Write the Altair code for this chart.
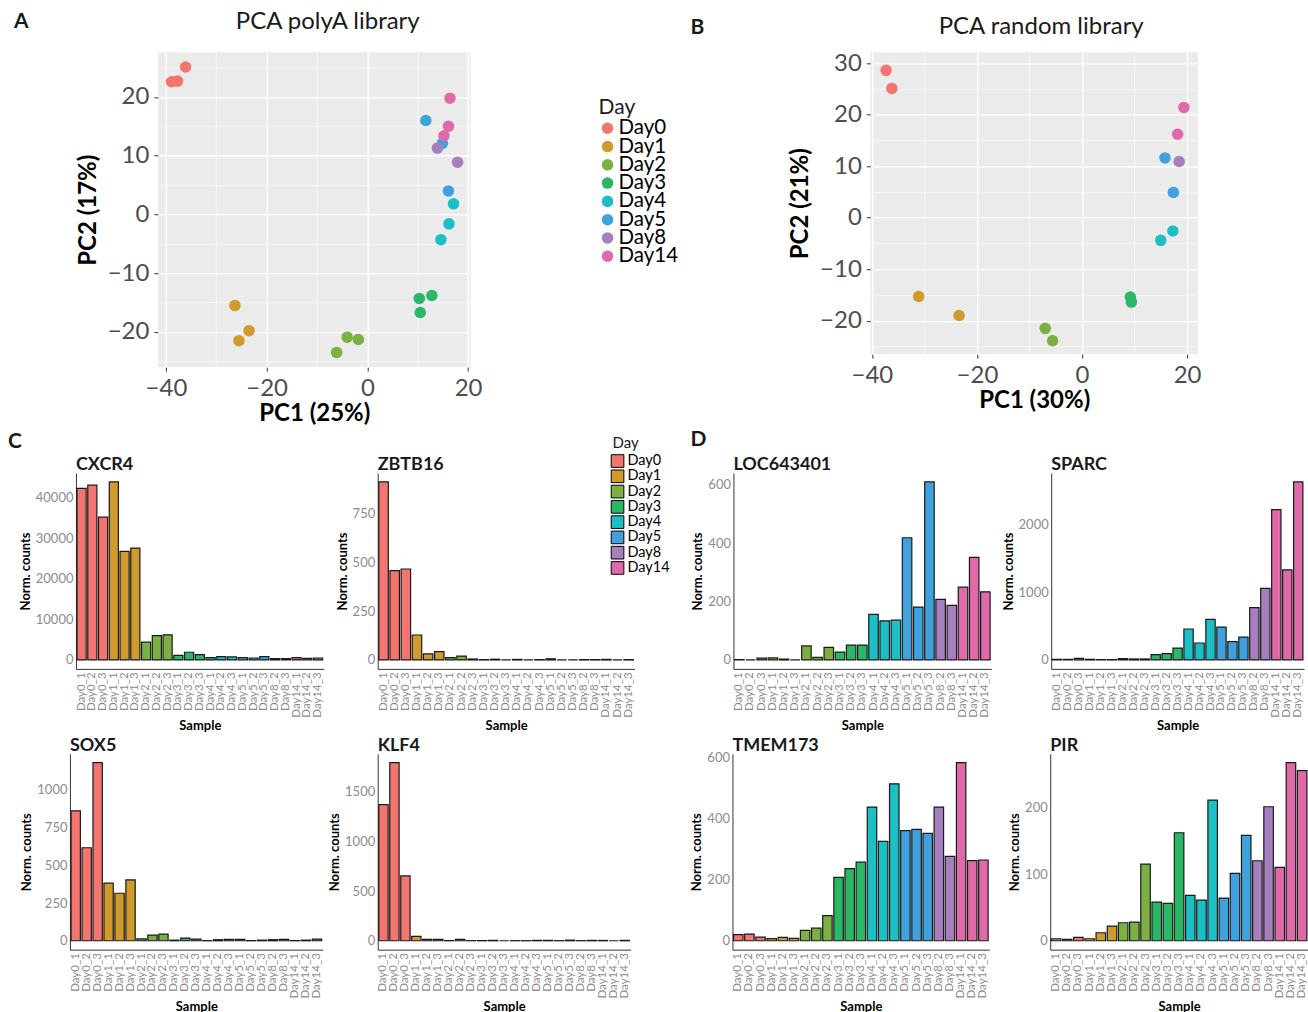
import altair as alt
import pandas as pd

# ---------------- data ----------------
days = ["Day0", "Day1", "Day2", "Day3", "Day4", "Day5", "Day8", "Day14"]
day_colors = ["#F2766F", "#D09A2C", "#7BB142", "#2AB766", "#1CBFC3", "#40A2DD", "#A77FBE", "#E06AA9"]

# PCA polyA library
pa_days = ["Day0"] * 3 + ["Day1"] * 3 + ["Day2"] * 3 + ["Day3"] * 3 + ["Day4"] * 3 + ["Day5"] * 3 + ["Day8"] * 2 + ["Day14"] * 3
pa_pc1 = [-36.1, -37.7, -38.9, -26.3, -23.5, -25.5, -4.0, -1.8, -6.1, 10.3, 12.8, 10.5,
          17.1, 16.2, 14.6, 11.6, 14.9, 16.1, 13.9, 17.9, 16.4, 16.1, 15.2]
pa_pc2 = [25.1, 22.7, 22.6, -15.5, -19.8, -21.5, -20.9, -21.3, -23.5, -14.3, -13.8, -16.7,
          1.8, -1.6, -4.3, 16.0, 12.1, 4.0, 11.3, 8.9, 19.8, 15.0, 13.4]

# PCA random library
rb_days = ["Day0"] * 2 + ["Day1"] * 2 + ["Day2"] * 2 + ["Day3"] * 2 + ["Day4"] * 2 + ["Day5"] * 2 + ["Day8"] + ["Day14"] * 2
rb_pc1 = [-37.3, -36.2, -31.1, -23.4, -7.0, -5.6, 9.2, 9.4, 17.3, 15.0, 15.8, 17.4, 18.5, 19.4, 18.2]
rb_pc2 = [28.6, 25.1, -15.3, -19.0, -21.5, -23.9, -15.4, -16.4, -2.6, -4.4, 11.6, 4.9, 10.9, 21.4, 16.2]

samples = ["Day0_1", "Day0_2", "Day0_3", "Day1_1", "Day1_2", "Day1_3", "Day2_1", "Day2_2", "Day2_3",
           "Day3_1", "Day3_2", "Day3_3", "Day4_1", "Day4_2", "Day4_3", "Day5_1", "Day5_2", "Day5_3",
           "Day8_2", "Day8_3", "Day14_1", "Day14_2", "Day14_3"]
sample_days = [s.split("_")[0] for s in samples]

cxcr4 = [42300, 43100, 35200, 43900, 26800, 27600, 4400, 6000, 6200, 1150, 1900, 1300,
         570, 820, 740, 570, 490, 820, 330, 330, 570, 410, 490]
zbtb16 = [912, 458, 466, 128, 31, 43, 12, 20, 5, 2, 4, 0, 3, 0, 2, 6, 0, 0, 2, 2, 3, 0, 2]
sox5 = [861, 617, 1181, 382, 315, 404, 13, 38, 44, 4, 18, 11, 1, 7, 9, 9, 1, 4, 7, 9, 1, 4, 11]
klf4 = [1373, 1795, 654, 44, 13, 13, 2, 13, 1, 2, 4, 0, 1, 1, 4, 4, 1, 6, 1, 4, 3, 0, 4]
loc643401 = [1, 0, 6, 7, 3, 0, 48, 9, 43, 27, 51, 51, 156, 134, 136, 418, 181, 609, 207, 187, 249, 351, 233]
sparc = [10, 10, 25, 10, 5, 5, 20, 15, 15, 78, 93, 176, 456, 250, 598, 485, 270, 338, 770, 1054, 2216, 1328, 2623]
tmem173 = [20, 22, 12, 7, 11, 8, 34, 41, 82, 207, 236, 257, 437, 325, 513, 360, 364, 351, 437, 276, 582, 262, 264]
pir = [3, 2, 5, 3, 12, 22, 27, 28, 115, 58, 56, 162, 68, 61, 211, 64, 101, 158, 120, 201, 110, 267, 255]

FONT = "Lato"


# ---------------- helpers ----------------
def anchor(x, y):
    return alt.Chart(pd.DataFrame({"a": [0]})).mark_point(
        filled=True, size=1, opacity=0
    ).encode(x=alt.value(x), y=alt.value(y))


def label(txt, x, y, size, weight="bold", align="left"):
    return alt.Chart(pd.DataFrame({"t": [txt]})).mark_text(
        align=align, baseline="alphabetic", fontSize=size, fontWeight=weight,
        font=FONT, color="#1A1A1A"
    ).encode(text="t:N", x=alt.value(x), y=alt.value(y))


def spacer(w, pts):
    layers = [anchor(px, py) for px, py in pts]
    return alt.layer(*layers).properties(width=w, height=1)


color_scale = alt.Scale(domain=days, range=day_colors)


def legend_layers(shape, x_sym, x_lab, y_first, y_last, sym_size, font_size, title_xy, title_size):
    ldf = pd.DataFrame({"day": days})
    yenc = alt.Y("day:N", sort=days, axis=None,
                 scale=alt.Scale(type="point", domain=days, range=[y_first, y_last], padding=0))
    if shape == "circle":
        syms = alt.Chart(ldf).mark_circle(size=sym_size, opacity=1)
    else:
        syms = alt.Chart(ldf).mark_square(size=sym_size, opacity=1, stroke="black", strokeWidth=1)
    syms = syms.encode(x=alt.value(x_sym), y=yenc,
                       color=alt.Color("day:N", scale=color_scale, legend=None))
    labs = alt.Chart(ldf).mark_text(
        align="left", baseline="middle", fontSize=font_size, font=FONT, color="black"
    ).encode(x=alt.value(x_lab), y=yenc, text="day:N")
    return [label("Day", title_xy[0], title_xy[1], title_size, "normal"), syms, labs]


def pca_axis(title, vals, step, tpad):
    major = f"datum.value % {step} === 0"
    return alt.Axis(
        values=vals, title=title, format="d",
        labelExpr=f"{major} ? datum.label : ''",
        gridColor="white",
        gridWidth={"condition": {"test": major, "value": 1.3}, "value": 0.6},
        tickOpacity={"condition": {"test": major, "value": 1}, "value": 0},
        tickColor="#333333", tickSize=4, tickWidth=1, domain=False,
        labelFontSize=24, labelColor="#4D4D4D", labelPadding=5, labelFont=FONT,
        labelFlush=False, labelOverlap=False,
        titleFontSize=24, titleFontWeight="bold", titleColor="black", titleFont=FONT,
        titlePadding=tpad,
    )


def pca_panel(dlist, x1, x2, title, xlab, ylab, xdom, ydom, xvals, yvals, w, h,
              title_x, title_y, letter, letter_x, letter_y, extra):
    df = pd.DataFrame({"day": dlist, "pc1": x1, "pc2": x2})
    pts = alt.Chart(df).mark_circle(size=133, opacity=1).encode(
        x=alt.X("pc1:Q", scale=alt.Scale(domain=xdom, nice=False, zero=False),
                axis=pca_axis(xlab, xvals, 20, 1)),
        y=alt.Y("pc2:Q", scale=alt.Scale(domain=ydom, nice=False, zero=False),
                axis=pca_axis(ylab, yvals, 10, 7)),
        color=alt.Color("day:N", scale=color_scale, legend=None),
    )
    layers = [pts, label(title, title_x, title_y, 24, "normal", "center"),
              label(letter, letter_x, letter_y, 21)] + extra
    return alt.layer(*layers).resolve_scale(y="independent").properties(
        width=w, height=h, view=alt.ViewBackground(fill="#EBEBEB", stroke=None)
    )


def bar_panel(gene, values, ticks, w, h, L, R=None, extra=None, letter=None):
    df = pd.DataFrame({"sample": samples, "day": sample_days, "value": values})
    m = max(values)
    bars = alt.Chart(df).mark_bar(stroke="#1A1A1A", strokeWidth=1.2).encode(
        x=alt.X("sample:N", sort=samples,
                scale=alt.Scale(paddingInner=0.15, paddingOuter=0.1),
                axis=alt.Axis(title="Sample", labelAngle=270, labelFontSize=11.5,
                              labelColor="#8C8C8C", labelFont=FONT, ticks=False,
                              labelPadding=3, domainColor="#333333", domainWidth=1,
                              grid=False, titleFont=FONT, titleFontSize=13,
                              titleFontWeight="bold", titleColor="black", titlePadding=2)),
        y=alt.Y("value:Q", stack=None,
                scale=alt.Scale(domain=[-0.05 * m, 1.05 * m], nice=False, zero=False),
                axis=alt.Axis(values=ticks, format="d", title="Norm. counts",
                              labelFontSize=13, labelColor="#8C8C8C", labelFont=FONT,
                              ticks=False, labelPadding=3, domainColor="#333333",
                              domainWidth=1, grid=False, titleFont=FONT, titleFontSize=13,
                              titleFontWeight="bold", titleColor="black", titlePadding=3)),
        fill=alt.Fill("day:N", scale=color_scale, legend=None),
    )
    layers = [bars, label(gene, 0, -3, 18), anchor(-L, 0)]
    if R is not None:
        layers.append(anchor(R, 0))
    if letter is not None:
        layers.append(label(letter[0], letter[1], letter[2], 21))
    if extra:
        layers += extra
    return alt.layer(*layers).resolve_scale(y="independent").properties(width=w, height=h)


# ---------------- row 1 : PCA ----------------
panel_a = pca_panel(
    pa_days, pa_pc1, pa_pc2, "PCA polyA library", "PC1 (25%)", "PC2 (17%)",
    [-41.6, 20.5], [-26.0, 27.6], [-40, -30, -20, -10, 0, 10, 20],
    [-25, -20, -15, -10, -5, 0, 5, 10, 15, 20, 25], 313, 315,
    170, -23, "A", -144, -24,
    [anchor(-144, 0), anchor(531, 0)]
    + legend_layers("circle", 450, 461, 76, 204, 133, 20.5, (441, 62), 21),
)
panel_b = pca_panel(
    rb_days, rb_pc1, rb_pc2, "PCA random library", "PC1 (30%)", "PC2 (21%)",
    [-40.3, 22.1], [-26.5, 32.1], [-40, -30, -20, -10, 0, 10, 20],
    [-25, -20, -15, -10, -5, 0, 5, 10, 15, 20, 25, 30], 328, 302,
    171, -18, "B", -180, -18, [anchor(-180, 0)],
)
row1 = alt.hconcat(spacer(13, [(6, -51), (6, 376)]), panel_a, panel_b, spacing=0)

# ---------------- row 2 ----------------
p_cxcr4 = bar_panel("CXCR4", cxcr4, [0, 10000, 20000, 30000, 40000], 248, 196, 68, R=250,
                    letter=("C", -68, -25))
p_zbtb16 = bar_panel("ZBTB16", zbtb16, [0, 250, 500, 750], 257, 196, 50, R=300,
                     extra=legend_layers("square", 240, 250, -12, 95, 160, 14.5, (235, -25), 15))
p_loc = bar_panel("LOC643401", loc643401, [0, 200, 400, 600], 258, 196, 54, R=260,
                  letter=("D", -43, -27))
p_sparc = bar_panel("SPARC", sparc, [0, 1000, 2000], 253, 196, 56)
row2 = alt.hconcat(spacer(7, [(3, -43), (3, 260)]), p_cxcr4, p_zbtb16, p_loc, p_sparc, spacing=0)

# ---------------- row 3 ----------------
p_sox5 = bar_panel("SOX5", sox5, [0, 250, 500, 750, 1000, 1250], 253, 196, 55, R=254)
p_klf4 = bar_panel("KLF4", klf4, [0, 500, 1000, 1500], 253, 196, 52, R=255)
p_tmem = bar_panel("TMEM173", tmem173, [0, 200, 400, 600], 257, 196, 98, R=259)
p_pir = bar_panel("PIR", pir, [0, 100, 200], 258, 196, 57)
row3 = alt.hconcat(spacer(14, [(7, -19)]), p_sox5, p_klf4, p_tmem, p_pir, spacing=0)


def indep(c):
    return c.resolve_scale(color="independent", fill="independent").resolve_legend(
        color="independent", fill="independent")


chart = indep(alt.vconcat(indep(row1), indep(row2), indep(row3), spacing=0)).properties(
    padding={"left": 0, "top": 0, "right": 0, "bottom": 0}, background="white"
).configure(font=FONT).configure_view(stroke=None)

chart.save("out.html", embed_options={"renderer": "svg", "actions": False})
